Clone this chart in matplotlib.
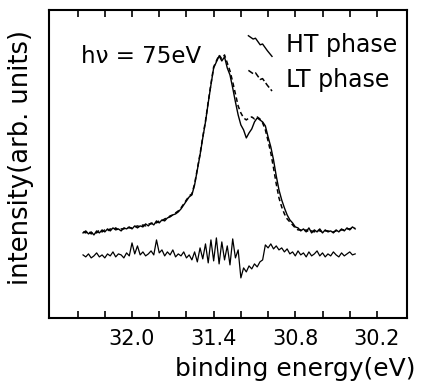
"""
Photoemission spectra, HT vs LT phase (hv = 75 eV) with difference curve.
"""
import matplotlib
matplotlib.use("Agg")
import matplotlib.pyplot as plt
import numpy as np
from matplotlib.legend_handler import HandlerBase
from matplotlib.lines import Line2D

plt.rcParams["font.family"] = ["DejaVu Sans"]

# binding energy grid (eV), 0.02 eV steps
energy = np.round(np.linspace(32.36, 30.36, 101), 2)

# HT phase intensity (arb. units)
ht_phase = [
    85, 87, 84, 86, 83, 87, 85, 88, 86, 89,
    87, 90, 88, 89, 87, 90, 89, 91, 89, 92,
    90, 92, 91, 94, 92, 95, 93, 97, 95, 98,
    97, 100, 101, 103, 104, 106, 109, 113, 117, 121,
    123, 133, 148, 163, 180, 196, 215, 233, 250, 256,
    262, 257, 261, 250, 243, 230, 216, 203, 193, 188,
    180, 185, 189, 196, 200, 198, 196, 192, 181, 171,
    158, 142, 128, 118, 110, 103, 98, 95, 91, 90,
    87, 89, 86, 90, 85, 88, 86, 89, 85, 88,
    86, 87, 85, 88, 86, 89, 87, 90, 88, 91,
    89,
]

# LT phase intensity (arb. units)
lt_phase = [
    86, 85, 87, 84, 86, 85, 88, 86, 88, 87,
    89, 88, 90, 88, 89, 89, 91, 90, 90, 91,
    92, 91, 93, 92, 94, 94, 96, 95, 97, 97,
    99, 100, 102, 103, 105, 107, 110, 114, 118, 122,
    124, 134, 149, 164, 181, 197, 216, 234, 251, 257,
    263, 259, 263, 255, 247, 236, 224, 212, 205, 200,
    198, 200, 201, 199, 201, 199, 195, 188, 177, 165,
    150, 134, 120, 111, 104, 99, 96, 93, 90, 88,
    88, 87, 88, 86, 87, 86, 88, 87, 86, 87,
    87, 86, 86, 87, 87, 88, 88, 89, 89, 90,
    90,
]

# difference curve (HT - LT, offset)
difference = [
    63, 61, 64, 60, 62, 65, 61, 63, 60, 64,
    62, 66, 61, 64, 63, 60, 65, 62, 75, 64,
    72, 63, 66, 62, 64, 67, 63, 78, 65, 68,
    62, 66, 63, 68, 61, 64, 62, 66, 60, 63,
    58, 66, 56, 70, 59, 74, 55, 78, 57, 80,
    54, 76, 58, 72, 53, 79, 60, 68, 40, 50,
    46, 52, 49, 54, 51, 56, 58, 73, 70, 74,
    69, 72, 68, 70, 66, 69, 64, 66, 62, 67,
    63, 65, 61, 66, 62, 64, 67, 62, 65, 61,
    64, 62, 66, 63, 61, 65, 62, 64, 66, 63,
    64,
]

x_ticks = [32.4, 32.2, 32.0, 31.8, 31.6, 31.4, 31.2, 31.0, 30.8, 30.6, 30.4, 30.2]
x_labels = ["", "", "32.0", "", "", "31.4", "", "", "30.8", "", "", "30.2"]


class DiagonalHandler(HandlerBase):
    """legend key drawn as a short diagonal squiggle"""

    def create_artists(self, legend, orig_handle, xdescent, ydescent,
                       width, height, fontsize, trans):
        xs = np.array([0.0, 0.2, 0.3, 0.5, 0.6, 0.8, 1.0]) * width - xdescent
        ys = np.array([1.0, 0.8, 0.85, 0.45, 0.5, 0.1, -0.25]) * height - ydescent
        line = Line2D(xs, ys, color="black", lw=orig_handle.get_linewidth(),
                      linestyle=orig_handle.get_linestyle())
        line.set_transform(trans)
        return [line]


fig = plt.figure(figsize=(4.24, 3.83), dpi=100)
ax = fig.add_axes([0.1156, 0.170, 0.844, 0.804])

ax.plot(energy, ht_phase, color="black", lw=1.0)
ax.plot(energy, lt_phase, color="black", lw=1.1, linestyle=(0, (3, 2)))
ax.plot(energy, difference, color="black", lw=0.9)

ax.set_xlim(32.61, 29.98)
ax.set_ylim(0, 308)
ax.set_xticks(x_ticks)
ax.set_xticklabels(x_labels, fontsize=15)
ax.set_yticks([])
ax.tick_params(axis="x", direction="in", top=True, length=5, width=1.2, pad=8)
for sp in ax.spines.values():
    sp.set_linewidth(1.5)

ax.set_ylabel("intensity(arb. units)", fontsize=18.5)
ax.yaxis.set_label_coords(-0.042, 0.52)
fig.text(175 / 424, 14 / 383, "binding energy(eV)", fontsize=18,
         ha="left", va="center")

ax.text(0.09, 0.85, "hν = 75eV", transform=ax.transAxes, fontsize=16.5,
        ha="left", va="center")

h_ht = Line2D([], [], color="black", lw=1.0)
h_lt = Line2D([], [], color="black", lw=1.1, linestyle=(0, (2, 1.5)))
ax.legend([h_ht, h_lt], ["HT phase", "LT phase"], loc="upper right",
          bbox_to_anchor=(1.0, 0.955), frameon=False, fontsize=17,
          handlelength=1.0, handletextpad=0.6, labelspacing=0.45,
          borderaxespad=0.0, handler_map={Line2D: DiagonalHandler()})

fig.savefig("out.png", dpi=100)
